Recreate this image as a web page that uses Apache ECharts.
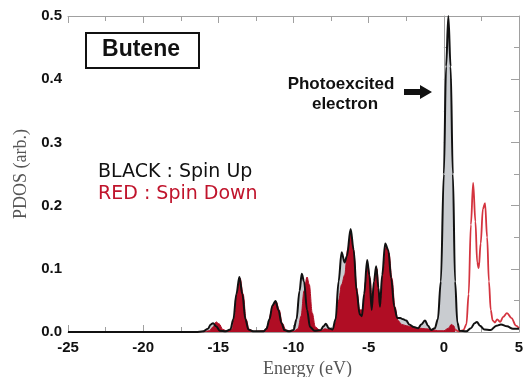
<!DOCTYPE html>
<html><head><meta charset="utf-8">
<script src="https://cdn.jsdelivr.net/npm/echarts@6/dist/echarts.min.js"></script>
<style>html,body{margin:0;padding:0;background:#fff}#c{width:525px;height:377px}</style>
</head><body><div id="c"></div>
<script>
// Spin up (black) PDOS
const upX = [-25,-16.5,-16.0,-15.7,-15.5,-15.35,-15.15,-14.9,-14.5,-14.2,-14.0,-13.8,-13.6,-13.4,-13.2,-13.0,-12.7,-12.0,-11.8,-11.6,-11.4,-11.2,-11.0,-10.8,-10.6,-10.3,-10.0,-9.8,-9.6,-9.45,-9.3,-9.1,-8.9,-8.6,-8.2,-8.0,-7.85,-7.65,-7.4,-7.2,-7.0,-6.8,-6.6,-6.45,-6.2,-6.0,-5.8,-5.6,-5.45,-5.3,-5.1,-4.95,-4.8,-4.65,-4.5,-4.35,-4.25,-4.1,-3.9,-3.7,-3.5,-3.3,-3.1,-2.9,-2.7,-2.5,-2.3,-2.0,-1.7,-1.5,-1.25,-1.05,-0.85,-0.6,-0.4,-0.2,0.0,0.15,0.3,0.45,0.6,0.75,0.9,1.05,1.5,1.8,2.05,2.2,2.4,2.7,3.1,3.5,3.8,4.2,4.6,5.0];
const upY = [0,0,0.001,0.005,0.012,0.014,0.009,0.002,0.001,0.004,0.02,0.06,0.087,0.06,0.02,0.004,0.001,0.001,0.005,0.02,0.042,0.049,0.035,0.014,0.003,0.001,0.003,0.02,0.065,0.092,0.08,0.035,0.008,0.002,0.003,0.009,0.013,0.006,0.004,0.02,0.08,0.126,0.11,0.12,0.163,0.13,0.065,0.028,0.025,0.06,0.114,0.09,0.035,0.08,0.104,0.07,0.04,0.09,0.14,0.13,0.085,0.04,0.022,0.022,0.02,0.018,0.012,0.008,0.006,0.012,0.018,0.01,0.003,0.006,0.02,0.08,0.25,0.42,0.5,0.42,0.25,0.08,0.015,0.002,0.001,0.006,0.014,0.016,0.01,0.004,0.003,0.01,0.012,0.009,0.005,0.005];
// Spin down (red) PDOS
const downX = [-16.0,-15.6,-15.35,-15.15,-14.95,-14.7,-14.4,-14.1,-13.9,-13.75,-13.55,-13.35,-13.15,-12.95,-12.6,-11.9,-11.7,-11.5,-11.3,-11.15,-10.95,-10.75,-10.5,-10.0,-9.7,-9.5,-9.3,-9.1,-8.95,-8.75,-8.55,-8.2,-7.9,-7.7,-7.4,-7.2,-7.0,-6.8,-6.6,-6.4,-6.2,-6.0,-5.8,-5.6,-5.4,-5.2,-5.05,-4.9,-4.75,-4.6,-4.45,-4.3,-4.2,-4.0,-3.85,-3.65,-3.45,-3.25,-3.05,-2.8,-2.5,-2.1,-1.6,-1.2,-0.8,-0.4,0.0,0.3,0.5,0.65,0.75,1.0,1.3,1.5,1.65,1.8,1.95,2.1,2.22,2.32,2.45,2.6,2.74,2.88,3.0,3.12,3.25,3.4,3.55,3.75,3.95,4.2,4.5,4.8,5.0];
const downY = [0,0.002,0.008,0.016,0.013,0.004,0.001,0.004,0.025,0.06,0.085,0.06,0.02,0.004,0.001,0.002,0.01,0.03,0.046,0.048,0.035,0.014,0.003,0.001,0.005,0.025,0.065,0.087,0.075,0.03,0.008,0.002,0.005,0.004,0.003,0.015,0.05,0.075,0.09,0.13,0.157,0.13,0.07,0.035,0.035,0.08,0.105,0.085,0.04,0.08,0.1,0.06,0.045,0.1,0.135,0.125,0.085,0.04,0.018,0.012,0.01,0.008,0.006,0.005,0.004,0.002,0.002,0.006,0.012,0.01,0.004,0.001,0.003,0.012,0.06,0.17,0.236,0.175,0.11,0.101,0.14,0.195,0.204,0.15,0.08,0.035,0.018,0.015,0.02,0.016,0.024,0.03,0.022,0.01,0.006];
const occupiedLimitUp = 1.05;
const occupiedLimitDown = 0.75;
const xTicks = [-25,-20,-15,-10,-5,0,5];
const yTicks = [0.0,0.1,0.2,0.3,0.4,0.5];

const pairs = (xs, ys) => xs.map((x, i) => [x, ys[i]]);
const upAll = pairs(upX, upY);
const downAll = pairs(downX, downY);
const upOcc = upAll.filter(p => p[0] <= occupiedLimitUp);
const downOcc = downAll.filter(p => p[0] <= occupiedLimitDown);
const downUnocc = downAll.filter(p => p[0] >= occupiedLimitDown);

const chart = echarts.init(document.getElementById('c'));
const axisCol = '#a0a0a0';
const sm = 0.35;
chart.setOption({
  animation: false,
  backgroundColor: '#fff',
  grid: {left: 68, right: 6, top: 16, bottom: 45, containLabel: false, outerBoundsMode: 'none'},
  xAxis: [{
    type: 'value', min: -25, max: 5, interval: 5,
    axisLine: {lineStyle: {color: axisCol, width: 1}},
    axisTick: {inside: true, length: 7, lineStyle: {color: axisCol}},
    minorTick: {show: true, splitNumber: 2, length: 5, lineStyle: {color: axisCol}},
    splitLine: {show: false},
    axisLabel: {color: '#111', fontFamily: 'Liberation Sans, Arial', fontWeight: 'bold', fontSize: 15, margin: 8,
      formatter: v => xTicks.includes(v) ? String(v) : ''},
    name: 'Energy (eV)', nameLocation: 'middle', nameGap: 28,
    nameTextStyle: {fontFamily: 'Liberation Serif, Times New Roman', fontSize: 18, color: '#555', padding: [0,0,0,28]}
  }, {
    type: 'value', position: 'top', min: -25, max: 5, interval: 5,
    axisLine: {show: true, onZero: false, lineStyle: {color: axisCol}},
    axisTick: {inside: true, length: 7, lineStyle: {color: axisCol}},
    minorTick: {show: true, splitNumber: 2, length: 5, lineStyle: {color: axisCol}},
    axisLabel: {show: false}, splitLine: {show: false}
  }],
  yAxis: [{
    type: 'value', min: 0, max: 0.5, interval: 0.1,
    axisLine: {show: true, lineStyle: {color: axisCol}},
    axisTick: {inside: true, length: 8, lineStyle: {color: axisCol}},
    minorTick: {show: true, splitNumber: 2, length: 5, lineStyle: {color: axisCol}},
    splitLine: {show: false},
    axisLabel: {color: '#111', fontFamily: 'Liberation Sans, Arial', fontWeight: 'bold', fontSize: 15, margin: 6,
      formatter: v => v.toFixed(1)},
    name: 'PDOS (arb.)', nameLocation: 'middle', nameGap: 38, nameRotate: 90,
    nameTextStyle: {fontFamily: 'Liberation Serif, Times New Roman', fontSize: 18, color: '#555'}
  }, {
    type: 'value', position: 'right', min: 0, max: 0.5, interval: 0.1,
    axisLine: {show: true, onZero: false, lineStyle: {color: axisCol}},
    axisTick: {inside: true, length: 8, lineStyle: {color: axisCol}},
    minorTick: {show: true, splitNumber: 2, length: 5, lineStyle: {color: axisCol}},
    axisLabel: {show: false}, splitLine: {show: false}
  }],
  series: [
    {type: 'line', data: upOcc, smooth: sm, smoothMonotone: 'x', symbol: 'none', z: 1,
      lineStyle: {width: 0}, areaStyle: {color: '#c9ccd0', opacity: 1}},
    {type: 'line', data: downOcc, smooth: sm, smoothMonotone: 'x', symbol: 'none', z: 2,
      lineStyle: {width: 1, color: '#b00d24'}, areaStyle: {color: '#b00d24', opacity: 1}},
    {type: 'line', data: downUnocc, smooth: sm, smoothMonotone: 'x', symbol: 'none', z: 3,
      lineStyle: {width: 1.8, color: '#d4343f'}},
    {type: 'line', data: upAll, smooth: sm, smoothMonotone: 'x', symbol: 'none', z: 4,
      lineStyle: {width: 2, color: '#111'}}
  ],
  graphic: [
    {type: 'rect', left: 85, top: 32, shape: {width: 113, height: 35},
      style: {fill: '#fff', stroke: '#111', lineWidth: 2}, z: 10},
    {type: 'text', x: 141, y: 50, z: 11,
      style: {text: 'Butene', font: 'bold 23px Liberation Sans, Arial', fill: '#111', textAlign: 'center', textVerticalAlign: 'middle'}},
    {type: 'text', x: 341, y: 84, z: 11,
      style: {text: 'Photoexcited', font: 'bold 17px Liberation Sans, Arial', fill: '#111', textAlign: 'center', textVerticalAlign: 'middle'}},
    {type: 'text', x: 345, y: 104, z: 11,
      style: {text: 'electron', font: 'bold 17px Liberation Sans, Arial', fill: '#111', textAlign: 'center', textVerticalAlign: 'middle'}},
    {type: 'polygon', z: 11, shape: {points: [[404,89],[420,89],[420,85],[432,92],[420,99],[420,95],[404,95]]},
      style: {fill: '#111'}},
    {type: 'text', x: 98, y: 172, z: 11,
      style: {text: 'BLACK : Spin Up', font: '19px DejaVu Sans', fill: '#111', textVerticalAlign: 'middle'}},
    {type: 'text', x: 98, y: 194, z: 11,
      style: {text: 'RED : Spin Down', font: '19px DejaVu Sans', fill: '#c0142c', textVerticalAlign: 'middle'}}
  ]
});
</script></body></html>
